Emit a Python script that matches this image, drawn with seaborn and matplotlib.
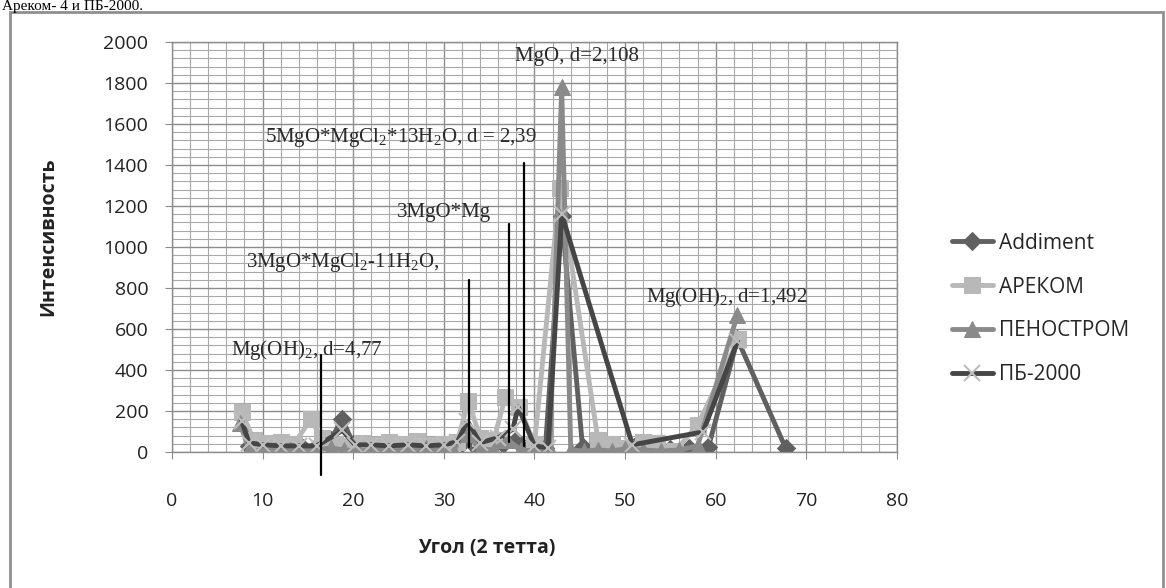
import matplotlib.pyplot as plt
import seaborn as sns
from matplotlib.ticker import MultipleLocator
from matplotlib.patches import Rectangle

# data
addiment_x = [8.5, 10, 11.5, 13, 14.5, 16, 17.5, 18.8, 20, 21.5, 23, 24.5, 26, 27.5, 29, 30.5,
              32, 33.5, 35, 36.5, 38, 39.5, 41.2, 43.0, 45.3, 47, 49, 51, 53, 55, 57, 59.2, 62.4, 67.7]
addiment_y = [30, 20, 25, 15, 20, 30, 60, 160, 40, 25, 30, 20, 35, 25, 20, 30,
              45, 25, 20, 40, 60, 25, 20, 1150, 25, 20, 15, 25, 20, 15, 20, 25, 550, 20]

arekom_x = [7.7, 9, 10.5, 12, 13.5, 15.3, 16.5, 18, 19.5, 21, 22.5, 24, 25.5, 27, 28.5, 30, 31.5,
            32.7, 34, 35.5, 36.8, 38.3, 40, 42.8, 47, 48.5, 50, 52, 53.5, 55.5, 58, 62.5]
arekom_y = [195, 60, 45, 50, 40, 160, 70, 40, 30, 45, 35, 50, 40, 55, 35, 40, 50,
            250, 70, 60, 270, 220, 40, 1290, 60, 40, 20, 50, 45, 5, 130, 550]

penostrom_x = [7.5, 8.5, 10, 11.5, 13, 14.5, 16, 17.5, 19, 20.5, 22, 23.5, 25, 26.5, 28, 29.5, 31,
               32.5, 34, 35.5, 37, 38.5, 40, 41.7, 43.0, 44.0, 45.5, 47, 48.5, 50, 52, 54, 56, 58, 62.4]
penostrom_y = [140, 10, 5, 15, 10, 5, 10, 20, 10, 5, 10, 15, 5, 10, 20, 5, 10,
               90, 15, 10, 60, 10, 5, 10, 1780, 10, 5, 10, 5, 15, 10, 5, 10, 30, 670]

pb_x = [7.7, 8.5, 10, 12, 14, 16, 18.8, 20.2, 22, 24, 26, 28, 30, 31.5, 32.6, 34, 36, 37.6, 38.2,
        40, 41.5, 43.0, 50.8, 58.6, 62.4]
pb_y = [150, 45, 35, 30, 30, 30, 105, 35, 35, 30, 35, 30, 35, 50, 150, 45, 70, 110, 220,
        30, 20, 1160, 35, 98, 540]

series_names = ['Addiment', 'АРЕКОМ', 'ПЕНОСТРОМ', 'ПБ-2000']

# reference peak lines: x, bottom, top
peak_x = [16.4, 32.8, 37.2, 38.8]
peak_bottom = [-110, 25, 50, 30]
peak_top = [475, 840, 1110, 1410]

peak_labels = ['Mg(OH)$_2$, d=4,77', '3MgO*MgCl$_2$-11H$_2$O,', '3MgO*Mg',
               '5MgO*MgCl$_2$*13H$_2$O, d = 2,39', 'MgO, d=2,108', 'Mg(OH)$_2$, d=1,492']
label_x = [6.5, 8.2, 24.8, 10.3, 37.9, 52.3]
label_y = [498, 922, 1170, 1532, 1927, 756]

sns.set_style('white')
plt.rcParams['font.family'] = ['Open Sans', 'DejaVu Sans']
plt.rcParams['mathtext.fontset'] = 'custom'
plt.rcParams['mathtext.rm'] = 'Liberation Serif'
plt.rcParams['mathtext.it'] = 'Liberation Serif'
plt.rcParams['mathtext.default'] = 'rm'

fig = plt.figure(figsize=(11.66, 5.88), dpi=100)
ax = fig.add_axes([0.1475, 0.2313, 0.6218, 0.6973])

styles = [
    dict(color='#606060', marker='D', markersize=9, mfc='#606060', mec='#606060'),
    dict(color='#b8b8b8', marker='s', markersize=11, mfc='#b8b8b8', mec='#b8b8b8'),
    dict(color='#8a8a8a', marker='^', markersize=12, mfc='#8a8a8a', mec='#8a8a8a'),
    dict(color='#454545', marker='x', markersize=11, mfc='#bdbdbd', mec='#bdbdbd', mew=1.5),
]
data = [(addiment_x, addiment_y), (arekom_x, arekom_y),
        (penostrom_x, penostrom_y), (pb_x, pb_y)]

for (xs, ys), name, st in zip(data, series_names, styles):
    sns.lineplot(x=xs, y=ys, ax=ax, label=name, linewidth=3.5, estimator=None,
                 sort=False, **st)

for x, b, t in zip(peak_x, peak_bottom, peak_top):
    ax.plot([x, x], [b, t], color='black', linewidth=1.6, clip_on=False, zorder=5)

for txt, x, y in zip(peak_labels, label_x, label_y):
    ax.text(x, y, txt, fontsize=15, family='Liberation Serif', color='#2a2a2a',
            va='center', ha='left', zorder=6)

ax.set_xlim(0, 80)
ax.set_ylim(0, 2000)
ax.xaxis.set_major_locator(MultipleLocator(10))
ax.xaxis.set_minor_locator(MultipleLocator(2))
ax.yaxis.set_major_locator(MultipleLocator(200))
ax.yaxis.set_minor_locator(MultipleLocator(40))
ax.grid(which='major', color='#8c8c8c', linewidth=1.0)
ax.grid(which='minor', color='#a8a8a8', linewidth=0.8)
ax.set_axisbelow(True)
for s in ax.spines.values():
    s.set_color('#8c8c8c')
    s.set_linewidth(1.0)
ax.tick_params(axis='y', which='major', left=True, length=5, color='#8c8c8c',
               pad=12, labelsize=14, labelcolor='#222222')
ax.tick_params(axis='x', which='major', bottom=True, length=5, color='#8c8c8c',
               pad=24, labelsize=14, labelcolor='#222222')
ax.set_xlabel('')
ax.set_ylabel('')

fig.text(0.041, 0.598, 'Интенсивность', rotation=90, fontsize=14, fontweight='bold',
         ha='center', va='center', color='#222222')
fig.text(0.417, 0.068, 'Угол (2 тетта)', fontsize=14, fontweight='bold',
         ha='center', va='center', color='#222222')

leg = ax.legend(loc='center left', bbox_to_anchor=(0.8, 0.4745),
                bbox_transform=fig.transFigure, frameon=False, fontsize=15,
                handlelength=2.0, labelspacing=1.1, handletextpad=0.3)
for h in leg.legend_handles:
    h.set_linewidth(3.5)

# outer chart frame and the document line above it
fig.patches.append(Rectangle((0.0086, -0.05), 0.9888, 1.03, transform=fig.transFigure,
                             fill=False, edgecolor='#8f8f8f', linewidth=2))
fig.text(0.002, 1 - 10 / 588, 'Ареком- 4 и ПБ-2000.', fontsize=11, family='Liberation Serif',
         va='baseline', ha='left', color='black')

fig.savefig('out.png', dpi=100)
